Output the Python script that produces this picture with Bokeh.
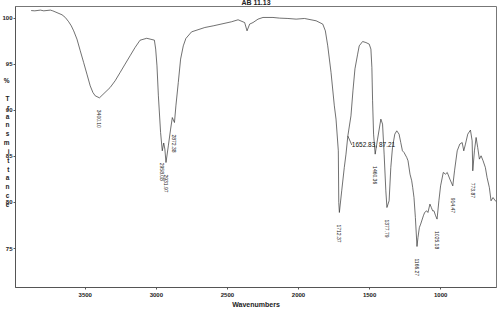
import numpy as np
from bokeh.plotting import figure
from bokeh.models import Range1d, FixedTicker, Label
from bokeh.embed import file_html
from bokeh.resources import INLINE
from bokeh.core.properties import value

title_text = "AB 11.13"
x_label = "Wavenumbers"
y_label = "% Transmittance"

wavenumber = [
    3880.6, 3854.7, 3815.4, 3791.6, 3745.3, 3728.5, 3663.3, 3640.2, 3616.4, 3598.1,
    3581.3, 3558.2, 3535.0, 3511.2, 3488.1, 3465.0, 3446.0, 3429.9, 3400.1, 3324.8,
    3289.7, 3254.7, 3219.6, 3184.6, 3149.6, 3114.5, 3067.5, 3013.6, 3004.5, 2995.4,
    2985.5, 2970.0, 2958.1, 2948.0, 2940.0, 2932.0, 2915.5, 2899.4, 2887.5, 2872.4,
    2862.3, 2845.5, 2829.2, 2810.3, 2792.1, 2752.1, 2658.9, 2600.0, 2471.8, 2424.9,
    2378.6, 2361.8, 2343.5, 2319.7, 2284.7, 2249.6, 2179.5, 2133.2, 2074.4, 2016.2,
    1958.0, 1876.0, 1829.1, 1810.9, 1794.1, 1770.9, 1747.8, 1735.9, 1719.7, 1716.5,
    1712.4, 1695.9, 1677.7, 1665.8, 1652.8, 1630.8, 1616.8, 1602.7, 1583.8, 1572.6,
    1548.8, 1525.6, 1502.5, 1490.6, 1483.6, 1478.7, 1471.7, 1460.4, 1443.6, 1420.5,
    1408.6, 1397.4, 1385.5, 1377.8, 1362.4, 1350.5, 1338.6, 1322.5, 1308.5, 1292.4,
    1280.5, 1268.6, 1257.4, 1238.5, 1229.4, 1215.4, 1203.5, 1196.5, 1187.4, 1177.6,
    1166.3, 1159.4, 1149.6, 1140.4, 1121.5, 1112.4, 1098.4, 1089.3, 1075.3, 1065.4,
    1056.3, 1047.2, 1035.3, 1025.2, 1012.2, 1000.3, 981.4, 965.3, 953.4, 935.2,
    914.5, 902.3, 883.4, 865.2, 848.4, 837.2, 825.3, 809.2, 790.3, 778.4,
    773.9, 762.3, 750.4, 739.2, 727.3, 715.4, 701.4, 685.3, 673.4, 657.3,
    645.4, 631.4, 615.3, 607.0,
]
transmittance = [
    100.82, 100.79, 100.87, 100.79, 100.87, 100.79, 100.36, 100.07, 99.60, 99.16,
    98.62, 97.72, 96.45, 95.18, 93.92, 92.65, 91.93, 91.57, 91.35, 92.47,
    93.20, 94.10, 95.01, 95.91, 96.81, 97.60, 97.81, 97.61, 96.64, 94.82,
    91.57, 87.59, 85.60, 86.45, 85.79, 84.33, 86.14, 87.96, 89.21, 88.67,
    90.48, 93.01, 95.55, 96.99, 97.79, 98.51, 98.98, 99.16, 99.60, 99.82,
    99.52, 98.62, 99.35, 99.52, 99.89, 100.07, 100.07, 100.00, 99.96, 99.89,
    99.96, 99.71, 99.35, 98.62, 96.99, 94.10, 90.48, 89.04, 85.60, 80.00,
    78.91, 81.26, 83.79, 85.24, 87.21, 89.40, 92.11, 94.50, 96.09, 96.99,
    97.46, 97.35, 97.18, 96.64, 94.64, 91.03, 87.41, 85.24, 86.87, 89.04,
    88.50, 85.24, 81.26, 79.45, 80.18, 83.79, 85.96, 87.41, 87.77, 87.41,
    86.50, 85.60, 85.42, 84.88, 84.52, 83.07, 82.35, 81.62, 80.53, 78.36,
    75.22, 76.20, 77.28, 77.65, 78.55, 78.91, 79.09, 78.91, 79.82, 79.45,
    79.09, 79.09, 78.55, 78.19, 80.18, 81.80, 83.25, 83.07, 83.25, 82.53,
    81.80, 83.43, 85.60, 86.33, 86.50, 85.60, 86.33, 87.41, 87.85, 86.69,
    83.43, 85.60, 87.05, 85.96, 84.70, 85.06, 84.52, 83.79, 82.71, 81.62,
    80.18, 80.53, 80.18, 80.07,
]

peak_wn = [3400.10, 2958.08, 2931.97, 2872.38, 1712.37, 1460.36, 1377.79,
           1166.27, 1025.18, 914.47, 773.87]
peak_labels = ["3400.10", "2958.08", "2931.97", "2872.38", "1712.37", "1460.36",
               "1377.79", "1166.27", "1025.18", "914.47", "773.87"]

marker_wn = 1652.83
marker_t = 87.21
marker_text = "1652.83, 87.21"

x_ticks = [3500, 3000, 2500, 2000, 1500, 1000]
y_ticks = [75, 80, 85, 90, 95, 100]

X_START, X_END = 3990.6, 607.0
Y_START, Y_END = 70.77, 101.26

W, H = 497, 310
ML, MR, MT, MB = 13, 1, 0, 23
FW, FH = W - ML - MR, H - 6 - MB
px_x = (X_START - X_END) / FW   # wavenumber per pixel
px_y = (Y_END - Y_START) / FH   # %T per pixel

p = figure(width=W, height=H, x_range=Range1d(X_START, X_END),
           y_range=Range1d(Y_START, Y_END),
           min_border_left=ML, min_border_right=MR, min_border_top=MT,
           min_border_bottom=MB, output_backend="svg", toolbar_location=None)
p.grid.visible = False
p.outline_line_color = "#777777"
p.outline_line_width = 1
p.background_fill_color = "white"
p.border_fill_color = "white"

p.title.text = title_text
p.title.align = "center"
p.title.text_font = "Liberation Sans"
p.title.text_font_size = "7px"
p.title.text_font_style = "bold"
p.title.text_color = "#222222"
p.title.standoff = -3
p.title.offset = 0
p.title.text_line_height = 0.3
p.title.vertical_align = "top"

for ax in (p.xaxis[0], p.yaxis[0]):
    ax.axis_line_color = "#555555"
    ax.major_tick_line_color = "#555555"
    ax.major_tick_out = 2
    ax.major_tick_in = 0
    ax.minor_tick_line_color = None
    ax.major_label_text_font = "Liberation Sans"
    ax.major_label_text_font_size = "6px"
    ax.major_label_text_font_style = "bold"
    ax.major_label_text_color = "#222222"
    ax.axis_label_text_font = "Liberation Sans"
    ax.axis_label_text_font_style = "bold"
    ax.axis_label_text_color = "#222222"
p.xaxis.ticker = FixedTicker(ticks=x_ticks)
p.yaxis.ticker = FixedTicker(ticks=y_ticks)
p.xaxis.major_label_standoff = 3
p.yaxis.major_label_standoff = 1

p.xaxis.axis_label = x_label
p.xaxis.axis_label_text_font_size = "7px"
p.xaxis.axis_label_text_line_height = 0.8
p.xaxis.axis_label_standoff = 1

p.yaxis.axis_label = "\n".join(y_label) + "\n "
p.yaxis.axis_label_orientation = "horizontal"
p.yaxis.axis_label_text_font_size = "6.5px"
p.yaxis.axis_label_text_line_height = 1.26
p.yaxis.axis_label_standoff = -10

p.line(wavenumber, transmittance, line_color="#333333", line_width=0.7)

# peak labels, rotated, a fixed distance below each minimum
wn_asc = np.array(wavenumber)[::-1]
t_asc = np.array(transmittance)[::-1]
peak_t = list(np.interp(peak_wn, wn_asc, t_asc))
p.text(x=peak_wn, y=peak_t, text=peak_labels, angle=-np.pi / 2,
       text_align="left", text_baseline="middle", y_offset=12,
       text_font=value("Liberation Sans"), text_font_size="5px",
       text_color="#222222")

# marker annotation with leader line
dx_px, dy_px = 4, 9
p.segment(x0=[marker_wn], y0=[marker_t], x1=[marker_wn - dx_px * px_x],
          y1=[marker_t - dy_px * px_y], line_color="#333333", line_width=0.7)
p.add_layout(Label(x=marker_wn - dx_px * px_x, y=marker_t - dy_px * px_y,
                   text=marker_text, text_align="left", text_baseline="middle",
                   text_font="Liberation Sans", text_font_size="6.5px",
                   text_color="#111111"))

open("out.html", "w").write(file_html(p, INLINE))
